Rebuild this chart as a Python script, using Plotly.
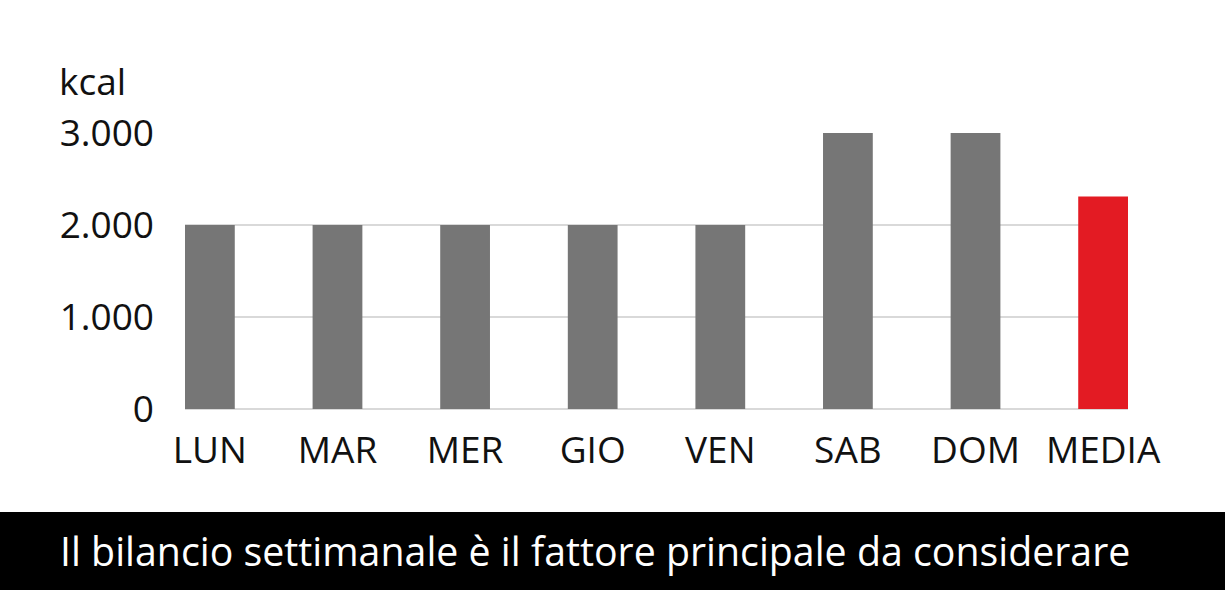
import plotly.graph_objects as go

categories = ["LUN", "MAR", "MER", "GIO", "VEN", "SAB", "DOM", "MEDIA"]
values = [2000, 2000, 2000, 2000, 2000, 3000, 3000, 2310]
bar_colors = ["#767676"] * 7 + ["#e31b23"]
y_ticks = [0, 1000, 2000, 3000]
unit_label = "kcal"
caption = "Il bilancio settimanale è il fattore principale da considerare"

FONT = "Open Sans"

fig = go.Figure(go.Bar(
    x=categories, y=values, marker=dict(color=bar_colors, line=dict(width=0)),
    width=0.39, hoverinfo="skip",
))

W, H = 1225, 590
L, R, T, B = 185, 97, 133, 181
pw, ph = W - L - R, H - T - B

def px_x(px):
    return (px - L) / pw

def px_y(py):
    return (H - B - py) / ph

fig.update_layout(
    width=W, height=H,
    margin=dict(l=L, r=R, t=T, b=B, pad=0),
    paper_bgcolor="white", plot_bgcolor="white",
    separators=",.",
    showlegend=False,
    font=dict(family=FONT, size=37, color="#111111"),
    xaxis=dict(
        range=[-0.195, 7.195], showgrid=False, showline=False, zeroline=False,
        tickfont=dict(size=37, color="#111111"), ticks="", ticklabelstandoff=16,
        fixedrange=True,
    ),
    yaxis=dict(
        range=[0, 3000], tickvals=y_ticks, tickformat=",d",
        showgrid=True, gridcolor="#d9d9d9", gridwidth=1.5,
        zeroline=True, zerolinecolor="#d9d9d9", zerolinewidth=2,
        showline=False, ticks="", ticklabelstandoff=30,
        tickfont=dict(size=37, color="#111111"), fixedrange=True,
    ),
    shapes=[dict(
        type="rect", xref="paper", yref="paper",
        x0=px_x(-5), x1=px_x(W + 5), y0=px_y(512), y1=px_y(H + 5),
        fillcolor="black", line=dict(width=0), layer="above",
    )],
    annotations=[
        dict(text=unit_label, xref="paper", yref="paper",
             x=px_x(57), y=px_y(80), xanchor="left", yanchor="middle",
             showarrow=False, font=dict(size=37, color="#111111")),
        dict(text=caption, xref="paper", yref="paper",
             x=px_x(58), y=px_y(551), xanchor="left", yanchor="middle",
             showarrow=False, font=dict(size=39.3, color="white")),
    ],
)

fig.write_html(
    "out.html",
    config={"displayModeBar": False, "staticPlot": True},
    post_script="document.body.style.margin='0';document.body.style.overflow='hidden';",
)
